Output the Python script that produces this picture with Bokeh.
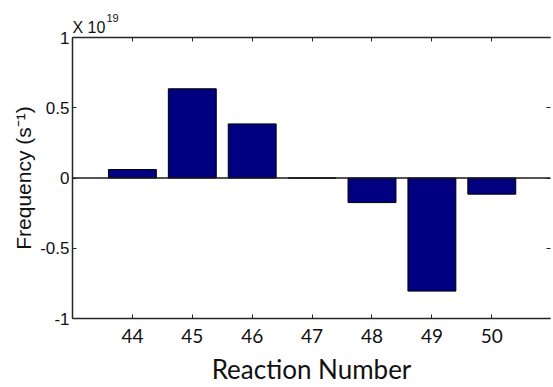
from bokeh.plotting import figure
from bokeh.models import (Range1d, FixedTicker, LinearAxis, Span, Title,
                          ColumnDataSource, CustomJSTickFormatter)
from bokeh.embed import file_html
from bokeh.resources import INLINE

# ---- data (frequency in units of 1e19 s^-1) ----
reactions = ["44", "45", "46", "47", "48", "49", "50"]
frequency = [0.06, 0.635, 0.385, 0.0, -0.175, -0.805, -0.115]
y_ticks = [-1, -0.5, 0, 0.5, 1]
y_tick_labels = ["-1", "-0.5", "0", "0.5", "1"]

positions = list(range(1, len(reactions) + 1))
src = ColumnDataSource(dict(x=positions, top=frequency, name=reactions))

AX = "#262626"
TXT = "#111111"
W, H = 553, 387

p = figure(width=W, height=H, output_backend="svg", toolbar_location=None,
           x_range=Range1d(0, 7.98), y_range=Range1d(-1, 1),
           min_border_left=72, min_border_top=37, min_border_bottom=65,
           min_border_right=0, x_axis_location=None, y_axis_location=None)
p.outline_line_color = None
p.xgrid.visible = False
p.ygrid.visible = False
p.background_fill_color = "white"
p.border_fill_color = "white"

p.vbar(x="x", top="top", bottom=0, width=0.8, source=src,
       fill_color="#000080", line_color="black", line_width=1)

p.add_layout(Span(location=0, dimension="width", line_color="#1a1a1a", line_width=1.3))

empty = CustomJSTickFormatter(code="return ' '")

def style(ax):
    ax.axis_line_color = AX
    ax.axis_line_width = 1.5
    ax.major_tick_line_color = AX
    ax.major_tick_line_width = 1
    ax.major_tick_in = 4
    ax.major_tick_out = 0
    ax.minor_tick_line_color = None

# bottom axis
xb = LinearAxis(ticker=FixedTicker(ticks=positions),
                major_label_overrides={pos: lab for pos, lab in zip(positions, reactions)},
                axis_label="Reaction Number")
style(xb)
xb.major_label_standoff = 10
xb.major_label_text_font = "Lato"
xb.major_label_text_font_size = "19px"
xb.major_label_text_color = TXT
xb.axis_label_text_font = "Lato"
xb.axis_label_text_font_size = "26px"
xb.axis_label_text_font_style = "normal"
xb.axis_label_text_color = TXT
xb.axis_label_standoff = 7
p.add_layout(xb, "below")

# top axis
xt = LinearAxis(ticker=FixedTicker(ticks=positions), formatter=empty)
style(xt)
xt.major_label_standoff = 0
xt.major_label_text_font_size = "1px"
p.add_layout(xt, "above")

# left axis
yl = LinearAxis(ticker=FixedTicker(ticks=y_ticks),
                major_label_overrides={t: lab for t, lab in zip(y_ticks, y_tick_labels)},
                axis_label="Frequency (s\u207b\u00b9)")
style(yl)
yl.major_label_standoff = 3
yl.major_label_text_font = "Liberation Sans"
yl.major_label_text_font_size = "17px"
yl.major_label_text_color = TXT
yl.axis_label_text_font = "Liberation Sans"
yl.axis_label_text_font_size = "21px"
yl.axis_label_text_font_style = "normal"
yl.axis_label_text_color = TXT
yl.axis_label_standoff = 2
p.add_layout(yl, "left")

# right axis (ticks only)
yr = LinearAxis(ticker=FixedTicker(ticks=y_ticks), formatter=empty)
style(yr)
yr.axis_line_color = None
yr.major_label_standoff = 0
yr.major_label_text_font_size = "1px"
p.add_layout(yr, "right")

# exponent annotation: "X 10" (next to frame) with raised "19" (outer title)
base = Title(text="X 10", align="left", offset=0, standoff=-4,
             text_font="Liberation Sans", text_font_size="16px",
             text_font_style="normal", text_color=TXT)
p.add_layout(base, "above")

p.title.text = "19"
p.title.align = "left"
p.title.offset = 34
p.title.standoff = -7
p.title.text_font = "Liberation Sans"
p.title.text_font_size = "11px"
p.title.text_font_style = "normal"
p.title.text_color = TXT

open("out.html", "w").write(file_html(p, INLINE))
